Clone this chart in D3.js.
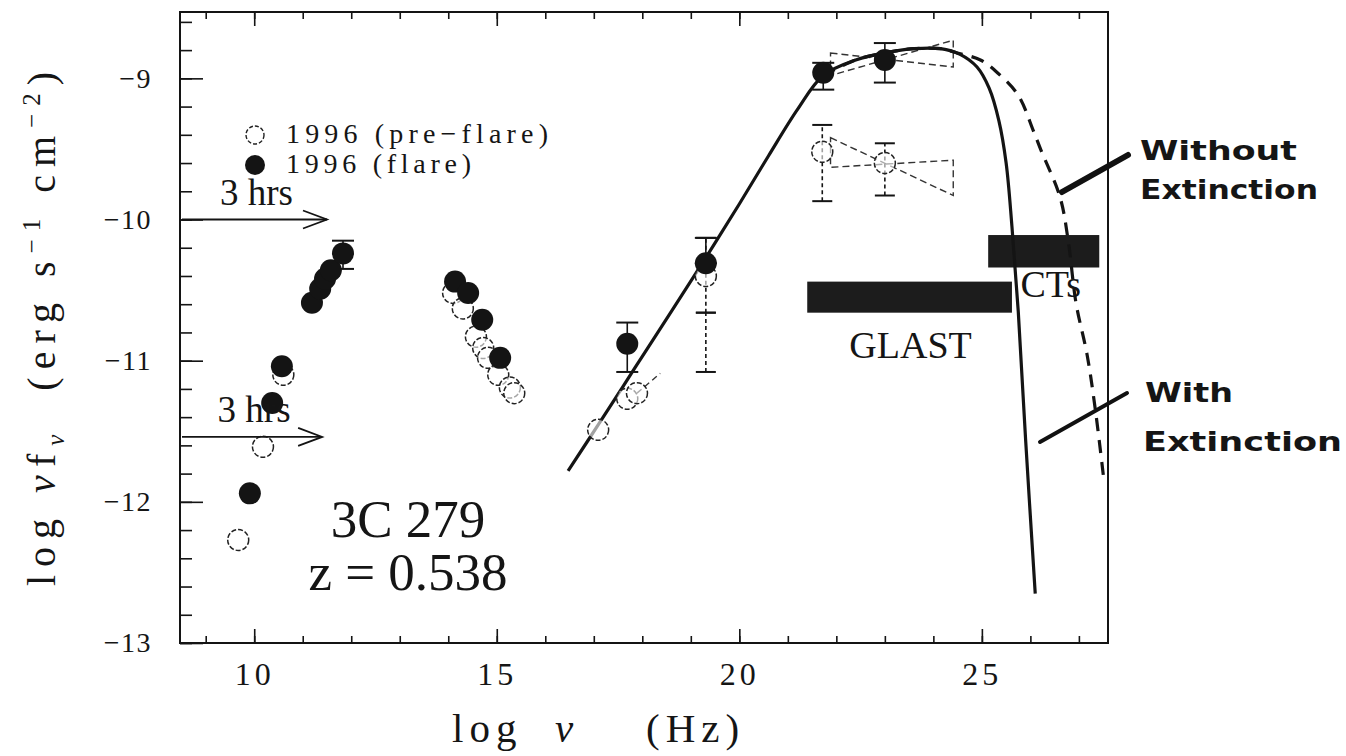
<!DOCTYPE html>
<html>
<head>
<meta charset="utf-8">
<script src="https://cdn.jsdelivr.net/npm/d3@7"></script>
<style>
  html, body { margin: 0; padding: 0; background: #fff; }
  svg { display: block; }
  text { fill: #151515; }
</style>
</head>
<body>
<svg id="chart" width="1346" height="756"></svg>
<script>
// ---- 3C 279 spectral energy distribution, log nu vs log nu*f_nu ----

// Axis ranges
const xDomain = [8.47, 27.6];
const yDomain = [-13, -8.53];
const xMajorTicks = [10, 15, 20, 25];
const yMajorTicks = [-9, -10, -11, -12, -13];

// 1996 flare (filled circles): [log nu, log nuFnu]
const flareRadio = [[9.91, -11.94], [10.37, -11.30], [10.57, -11.04], [11.19, -10.59],
                    [11.36, -10.49], [11.46, -10.42], [11.58, -10.36], [11.83, -10.24]];
const flareOptical = [[14.14, -10.44], [14.41, -10.52], [14.70, -10.71], [15.07, -10.98]];
const flareHigh = [[17.69, -10.88], [19.31, -10.31], [21.73, -8.96], [23.00, -8.87]];
// flare error bars: [log nu, low, high]
const flareErrors = [[11.83, -10.35, -10.15], [17.69, -11.08, -10.73], [19.31, -10.31, -10.13],
                     [21.73, -9.08, -8.89], [23.00, -9.03, -8.75]];

// 1996 pre-flare (open circles)
const preRadio = [[9.67, -12.27], [10.18, -11.61], [10.60, -11.10]];
const preOptical = [[14.10, -10.52], [14.30, -10.63], [14.57, -10.83], [14.72, -10.91],
                    [14.82, -10.98], [15.03, -11.10], [15.27, -11.19], [15.36, -11.23]];
const preHigh = [[17.09, -11.49], [17.69, -11.27], [17.89, -11.23], [19.31, -10.40],
                 [21.71, -9.52], [23.00, -9.60]];
const preErrors = [[19.31, -10.66, -10.13], [19.31, -11.08, -10.66],
                   [21.71, -9.87, -9.33], [23.00, -9.83, -9.46]];
const preXraySlope = [[17.89, -11.23], [18.37, -11.09]];

// EGRET spectral bow-ties: [nu start, nu end, [line A start, end], [line B start, end]]
const flareBowtie = [21.88, 24.41, [-8.82, -8.92], [-8.98, -8.73]];
const preBowtie = [21.88, 24.41, [-9.42, -9.83], [-9.63, -9.58]];

// Model curves
const withExtinction = [[16.47, -11.78], [17.10, -11.45], [17.85, -11.05], [18.60, -10.65],
  [19.31, -10.27], [20.00, -9.89], [20.60, -9.55], [21.20, -9.22], [21.73, -8.98],
  [22.40, -8.87], [23.00, -8.82], [23.60, -8.79], [24.15, -8.79], [24.55, -8.83],
  [24.90, -8.92], [25.15, -9.07], [25.35, -9.30], [25.50, -9.60], [25.62, -10.05],
  [25.75, -10.65], [25.90, -11.55], [26.10, -12.65]];
const withoutExtinction = [[21.73, -8.98], [22.40, -8.87], [23.00, -8.82], [23.60, -8.79],
  [24.15, -8.79], [24.49, -8.82], [24.97, -8.87], [25.32, -8.96], [25.75, -9.12],
  [26.06, -9.37], [26.22, -9.51], [26.61, -9.84], [26.78, -10.15], [26.94, -10.59],
  [27.17, -10.96], [27.34, -11.35], [27.52, -11.86]];

// Detector sensitivity bands
const bandNames = ["GLAST", "CTs"];
const bandNu = [[21.40, 25.62], [25.13, 27.42]];
const bandFlux = [[-10.66, -10.44], [-10.34, -10.11]];

// Variability-timescale arrows
const arrowLevels = [-10.0, -11.54];
const arrowTips = [11.50, 11.40];

// ---- layout ----
const svg = d3.select("#chart");
const frameLeft = 180, frameRight = 1108, frameTop = 12, frameBottom = 643;
const x = d3.scaleLinear().domain(xDomain).range([frameLeft, frameRight]);
const y = d3.scaleLinear().domain(yDomain).range([frameBottom, frameTop]);
const ink = "#141414";
const serif = "'Liberation Serif', 'Times New Roman', serif";

// frame
svg.append("rect").attr("x", frameLeft).attr("y", frameTop)
  .attr("width", frameRight - frameLeft).attr("height", frameBottom - frameTop)
  .attr("fill", "none").attr("stroke", ink).attr("stroke-width", 2);

// ticks
function styleAxis(g) {
  g.select(".domain").remove();
  g.selectAll(".tick line").attr("stroke", ink).attr("stroke-width", 1.6);
  g.selectAll(".tick text").attr("fill", "#333").attr("font-family", serif);
}
const yMinor = d3.range(-13, -8.5, 0.2).map(v => +v.toFixed(1));
const xMinor = d3.range(9, 28, 1);

svg.append("g").attr("transform", `translate(${frameLeft},0)`)
  .call(d3.axisLeft(y).tickValues(yMinor).tickSize(-12).tickFormat(""))
  .call(styleAxis);
svg.append("g").attr("transform", `translate(${frameLeft},0)`)
  .call(d3.axisLeft(y).tickValues(yMajorTicks).tickSize(-23).tickPadding(28)
    .tickFormat(d => "\u2212" + Math.abs(d)))
  .call(styleAxis)
  .call(g => g.selectAll(".tick text").attr("font-size", 28).attr("letter-spacing", 1.5));

svg.append("g").attr("transform", `translate(0,${frameBottom})`)
  .call(d3.axisBottom(x).tickValues(xMinor).tickSize(-7).tickFormat(""))
  .call(styleAxis);
svg.append("g").attr("transform", `translate(0,${frameBottom})`)
  .call(d3.axisBottom(x).tickValues(xMajorTicks).tickSize(-14).tickPadding(19))
  .call(styleAxis)
  .call(g => g.selectAll(".tick text").attr("font-size", 32).attr("letter-spacing", 4));
svg.append("g").attr("transform", `translate(0,${frameTop})`)
  .call(d3.axisTop(x).tickValues(xMinor).tickSize(-7).tickFormat(""))
  .call(styleAxis);
svg.append("g").attr("transform", `translate(0,${frameTop})`)
  .call(d3.axisTop(x).tickValues(xMajorTicks).tickSize(-14).tickFormat(""))
  .call(styleAxis);

// axis titles
const xt = svg.append("text").attr("y", 742)
  .attr("font-family", serif).attr("font-size", 41).attr("letter-spacing", 6);
xt.append("tspan").attr("x", 452).text("log");
xt.append("tspan").attr("x", 555).attr("font-style", "italic").text("\u03bd");
xt.append("tspan").attr("x", 646).text("(Hz)");

const yt = svg.append("text").attr("transform", "translate(55,325) rotate(-90)")
  .attr("text-anchor", "middle").attr("font-family", serif).attr("font-size", 40)
  .attr("letter-spacing", 8).style("white-space", "pre");
yt.append("tspan").text("log ");
yt.append("tspan").attr("font-style", "italic").text("\u03bd");
yt.append("tspan").text("f");
yt.append("tspan").attr("font-size", 25).attr("font-style", "italic").attr("dy", 9).text("\u03bd");
yt.append("tspan").attr("dy", -9).text("  (erg s");
yt.append("tspan").attr("font-size", 25).attr("dy", -15).text("\u22121");
yt.append("tspan").attr("dy", 15).text(" cm");
yt.append("tspan").attr("font-size", 25).attr("dy", -15).text("\u22122");
yt.append("tspan").attr("dy", 15).text(")");

// plot area content
const plot = svg.append("g");
const line = d3.line().x(d => x(d[0])).y(d => y(d[1]));

// sensitivity bands
bandNames.forEach((name, i) => {
  plot.append("rect")
    .attr("x", x(bandNu[i][0])).attr("width", x(bandNu[i][1]) - x(bandNu[i][0]))
    .attr("y", y(bandFlux[i][1])).attr("height", y(bandFlux[i][0]) - y(bandFlux[i][1]))
    .attr("fill", "#1c1c1c");
});
plot.append("text").attr("x", x(23.53)).attr("y", y(-10.98))
  .attr("text-anchor", "middle").attr("font-family", serif).attr("font-size", 38)
  .text(bandNames[0]);
plot.append("text").attr("x", x(26.42)).attr("y", y(-10.55))
  .attr("text-anchor", "middle").attr("font-family", serif).attr("font-size", 38)
  .text(bandNames[1]);

// bow-ties
[flareBowtie, preBowtie].forEach(b => {
  const pts = [[b[0], b[2][0]], [b[1], b[2][1]], [b[1], b[3][1]], [b[0], b[3][0]]];
  plot.append("path").attr("d", line(pts) + "Z")
    .attr("fill", "none").attr("stroke", "#333").attr("stroke-width", 1.4)
    .attr("stroke-dasharray", "7,4");
});
plot.append("path").attr("d", line(preXraySlope))
  .attr("fill", "none").attr("stroke", "#333").attr("stroke-width", 1.4)
  .attr("stroke-dasharray", "6,4");

// model curves
const smooth = d3.line().x(d => x(d[0])).y(d => y(d[1])).curve(d3.curveCatmullRom.alpha(0.5));
plot.append("path").datum(withoutExtinction).attr("d", smooth)
  .attr("fill", "none").attr("stroke", ink).attr("stroke-width", 3.2)
  .attr("stroke-dasharray", "13,9");
plot.append("path").datum(withExtinction).attr("d", smooth)
  .attr("fill", "none").attr("stroke", ink).attr("stroke-width", 3.2);

// error bars
function errorBars(data, dashed, capWidth) {
  const g = plot.append("g").attr("stroke", ink).attr("stroke-width", 1.6);
  data.forEach(([nu, lo, hi]) => {
    g.append("line").attr("x1", x(nu)).attr("x2", x(nu)).attr("y1", y(lo)).attr("y2", y(hi))
      .attr("stroke-dasharray", dashed ? "4,3" : null);
    [lo, hi].forEach(v => g.append("line")
      .attr("x1", x(nu) - capWidth).attr("x2", x(nu) + capWidth)
      .attr("y1", y(v)).attr("y2", y(v)).attr("stroke-width", 2));
  });
}
errorBars(preErrors, true, 10);
errorBars(flareErrors, false, 11);

// data points
const preAll = preRadio.concat(preOptical, preHigh);
const flareAll = flareRadio.concat(flareOptical, flareHigh);
plot.append("g").selectAll("circle").data(preAll).join("circle")
  .attr("cx", d => x(d[0])).attr("cy", d => y(d[1])).attr("r", 10.5)
  .attr("fill", "#fff").attr("fill-opacity", 0.6)
  .attr("stroke", "#222").attr("stroke-width", 1.5).attr("stroke-dasharray", "5,2");
plot.append("g").selectAll("circle").data(flareAll).join("circle")
  .attr("cx", d => x(d[0])).attr("cy", d => y(d[1])).attr("r", 11)
  .attr("fill", ink);

// legend
const legend = svg.append("g");
legend.append("circle").attr("cx", 255).attr("cy", 135).attr("r", 9)
  .attr("fill", "#fff").attr("stroke", "#222").attr("stroke-width", 1.4)
  .attr("stroke-dasharray", "4,2");
legend.append("circle").attr("cx", 255).attr("cy", 165).attr("r", 10).attr("fill", ink);
legend.append("text").attr("x", 286).attr("y", 143).attr("font-family", serif)
  .attr("font-size", 28).attr("textLength", 262).attr("lengthAdjust", "spacing")
  .text("1996 (pre\u2212flare)");
legend.append("text").attr("x", 286).attr("y", 173).attr("font-family", serif)
  .attr("font-size", 28).attr("textLength", 185).attr("lengthAdjust", "spacing")
  .text("1996 (flare)");

// 3-hour arrows
arrowLevels.forEach((lv, i) => {
  const yy = y(lv), x0 = frameLeft + 2, x1 = x(arrowTips[i]);
  plot.append("line").attr("x1", x0).attr("x2", x1).attr("y1", yy).attr("y2", yy)
    .attr("stroke", ink).attr("stroke-width", 1.8);
  plot.append("path").attr("d", `M${x1 - 24},${yy - 9}L${x1},${yy}L${x1 - 24},${yy + 9}`)
    .attr("fill", "none").attr("stroke", ink).attr("stroke-width", 1.8);
  plot.append("text").attr("x", (x0 + x1) / 2 + 2).attr("y", yy - 15)
    .attr("text-anchor", "middle").attr("font-family", serif).attr("font-size", 37)
    .text("3 hrs");
});

// source label
plot.append("text").attr("x", 408).attr("y", 537).attr("text-anchor", "middle")
  .attr("font-family", serif).attr("font-size", 53).text("3C 279");
plot.append("text").attr("x", 408).attr("y", 590).attr("text-anchor", "middle")
  .attr("font-family", serif).attr("font-size", 53).text("z = 0.538");

// hand-written annotations with pointers
const hand = "'DejaVu Sans', sans-serif";
const notes = svg.append("g");
notes.append("line").attr("x1", 1062).attr("y1", 192).attr("x2", 1128).attr("y2", 155)
  .attr("stroke", "#111").attr("stroke-width", 6).attr("stroke-linecap", "round");
notes.append("line").attr("x1", 1040).attr("y1", 442).attr("x2", 1127).attr("y2", 393)
  .attr("stroke", "#111").attr("stroke-width", 4).attr("stroke-linecap", "round");
[["Without", 1140, 160, 157], ["Extinction", 1140, 199, 178],
 ["With", 1145, 402, 88], ["Extinction", 1143, 451, 199]].forEach(([t, tx, ty, w]) => {
  notes.append("text").attr("x", tx).attr("y", ty).attr("font-family", hand)
    .attr("font-weight", "bold").attr("font-size", 27)
    .attr("textLength", w).attr("lengthAdjust", "spacingAndGlyphs").text(t);
});
</script>
</body>
</html>
